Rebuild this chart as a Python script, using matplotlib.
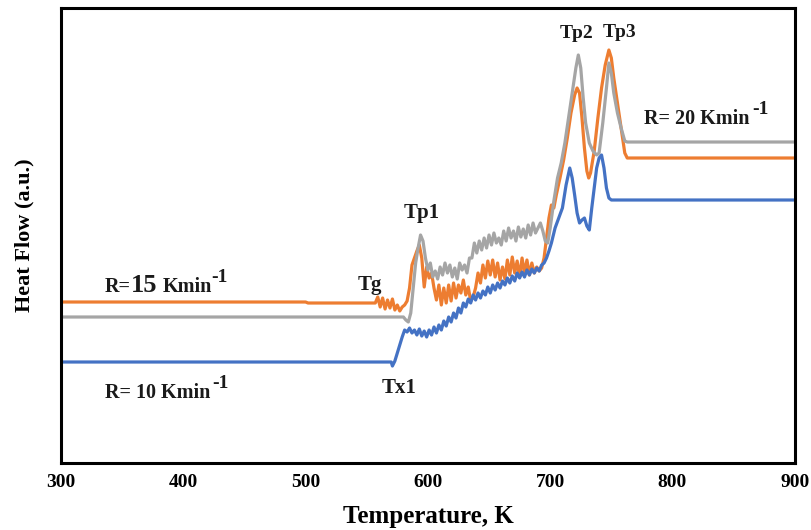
import numpy as np
import matplotlib.pyplot as plt

# DSC curves (temperature in K, heat flow in a.u.)
T_10 = [300, 570, 571, 573, 575, 577, 579, 581, 583, 585, 587, 589, 591, 593, 595, 597, 599,
        601, 603, 605, 607, 609, 611, 613, 615, 617, 619, 621, 623, 625, 627, 629, 631, 633,
        635, 637, 639, 641, 643, 645, 647, 649, 651, 653, 655, 657, 659, 661, 663, 665, 667,
        669, 671, 673, 675, 677, 679, 681, 683, 685, 687, 689, 691, 693, 695, 697, 699, 701,
        704, 707, 710, 713, 716, 718, 720, 722, 724, 726, 728, 730, 732, 734, 736, 738, 740,
        742, 744, 746, 748, 750, 900]
H_10 = [101, 101, 97, 102, 110, 118, 126, 133, 131, 135, 130, 133, 128, 134, 127, 132, 126,
        133, 128, 136, 130, 138, 133, 142, 137, 146, 141, 150, 145, 155, 150, 160, 156, 164,
        160, 168, 163, 170, 165, 172, 168, 176, 170, 178, 173, 180, 175, 182, 178, 185, 180,
        187, 182, 190, 185, 191, 186, 193, 188, 194, 190, 195, 192, 198, 200, 205, 212, 220,
        235, 245, 255, 278, 295, 285, 268, 250, 240, 243, 245, 237, 233, 255, 275, 295, 305,
        308, 295, 275, 265, 263, 263]

T_15 = [300, 500, 502, 557, 559, 561, 563, 565, 567, 569, 571, 573, 575, 577, 579, 581, 583,
        585, 587, 589, 591, 593, 595, 597, 599, 601, 603, 605, 607, 609, 611, 613, 615, 617,
        619, 621, 623, 625, 627, 629, 631, 633, 635, 637, 639, 641, 643, 645, 647, 649, 651,
        653, 655, 657, 659, 661, 663, 665, 667, 669, 671, 673, 675, 677, 679, 681, 683, 685,
        687, 689, 691, 693, 695, 697, 699, 701, 703, 705, 708, 711, 714, 717, 720, 722, 724,
        726, 728, 730, 731.5, 733, 736, 739, 742, 745, 748, 750, 752, 755, 758, 761, 763, 900]
H_15 = [161, 161, 160, 160, 166, 156, 165, 154, 163, 155, 164, 153, 158, 152, 156, 158, 162,
        175, 198, 205, 212, 218, 205, 176, 196, 185, 190, 175, 163, 178, 158, 175, 160, 178,
        162, 180, 165, 178, 170, 183, 168, 176, 162, 166, 175, 190, 180, 198, 185, 202, 188,
        203, 186, 200, 183, 196, 184, 203, 188, 206, 190, 202, 186, 205, 190, 203, 188, 200,
        190, 196, 192, 195, 205, 225, 245, 258, 255, 268, 285, 303, 325, 350, 368, 375, 370,
        345, 315, 292, 285, 290, 312, 345, 375, 398, 413, 405, 385, 360, 335, 310, 305, 305]

T_20 = [300, 580, 582, 584, 586, 588, 590, 592, 594, 596, 598, 600, 602, 604, 606, 608, 610,
        612, 614, 616, 618, 620, 622, 624, 626, 628, 630, 632, 634, 636, 638, 640, 642, 644,
        646, 648, 650, 652, 654, 656, 658, 660, 662, 664, 666, 668, 670, 672, 674, 676, 678,
        680, 682, 684, 686, 688, 690, 692, 694, 696, 698, 700, 703, 706, 709, 712, 715, 718,
        721, 723, 725, 727, 729, 732, 735, 738, 740, 743, 746, 748, 750, 752, 755, 758, 761,
        763, 900]
H_20 = [146, 146, 143, 141, 150, 175, 200, 215, 228, 222, 205, 193, 200, 186, 192, 184, 196,
        188, 200, 190, 198, 186, 195, 184, 200, 193, 198, 190, 205, 205, 220, 210, 222, 213,
        225, 215, 228, 218, 230, 220, 225, 218, 232, 222, 235, 225, 232, 222, 236, 226, 234,
        225, 238, 228, 240, 230, 235, 240, 232, 222, 220, 235, 262, 285, 300, 320, 345, 370,
        395, 408, 395, 365, 340, 320, 312, 308, 310, 340, 375, 400, 390, 370, 350, 335, 322,
        321, 321]

xticks = [300, 400, 500, 600, 700, 800, 900]

plt.rcParams['font.family'] = 'Liberation Serif'
plt.rcParams['font.weight'] = 'bold'

fig = plt.figure(figsize=(8.11, 5.30), dpi=100)
ax = fig.add_axes([0.0752, 0.1264, 0.9048, 0.8585])

ax.plot(T_15, H_15, color='#ED7D31', lw=2.3)
ax.plot(T_20, H_20, color='#A5A5A5', lw=2.3)
ax.plot(T_10, H_10, color='#4472C4', lw=2.3)

ax.set_xlim(300, 900)
ax.set_ylim(0, 455)
ax.set_xticks(xticks)
ax.set_yticks([])
ax.tick_params(axis='x', length=0, pad=8, labelsize=14)
for lab in ax.get_xticklabels():
    lab.set_fontweight('bold')
for sp in ax.spines.values():
    sp.set_linewidth(2.2)

ax.set_xlabel('Temperature, K', fontsize=18, fontweight='bold', labelpad=10)
ax.set_ylabel('Heat Flow (a.u.)', fontsize=16, fontweight='bold', labelpad=19)

tc = '#1a1a1a'
fs = 14.5
# heating-rate labels (superscript drawn as a raised text)
ax.text(336, 171, 'R=', fontsize=fs, color=tc)
ax.text(357, 171, '15', fontsize=19, color=tc)
ax.text(383, 171, 'Kmin', fontsize=fs, color=tc)
ax.text(423, 181, '-1', fontsize=14, color=tc)

ax.text(336, 65, 'R= 10 Kmin', fontsize=fs, color=tc)
ax.text(424, 75, '-1', fontsize=14, color=tc)

ax.text(777, 339, 'R= 20 Kmin', fontsize=fs, color=tc)
ax.text(865, 349, '-1', fontsize=14, color=tc)

ax.text(552.6, 173, 'Tg', fontsize=15, color=tc, ha='center')
ax.text(576.3, 70, 'Tx1', fontsize=15, color=tc, ha='center')
ax.text(595.3, 245, 'Tp1', fontsize=15, color=tc, ha='center')
ax.text(721.5, 425, 'Tp2', fontsize=14, color=tc, ha='center')
ax.text(756.5, 426, 'Tp3', fontsize=14, color=tc, ha='center')

fig.savefig('out.png', dpi=100)
